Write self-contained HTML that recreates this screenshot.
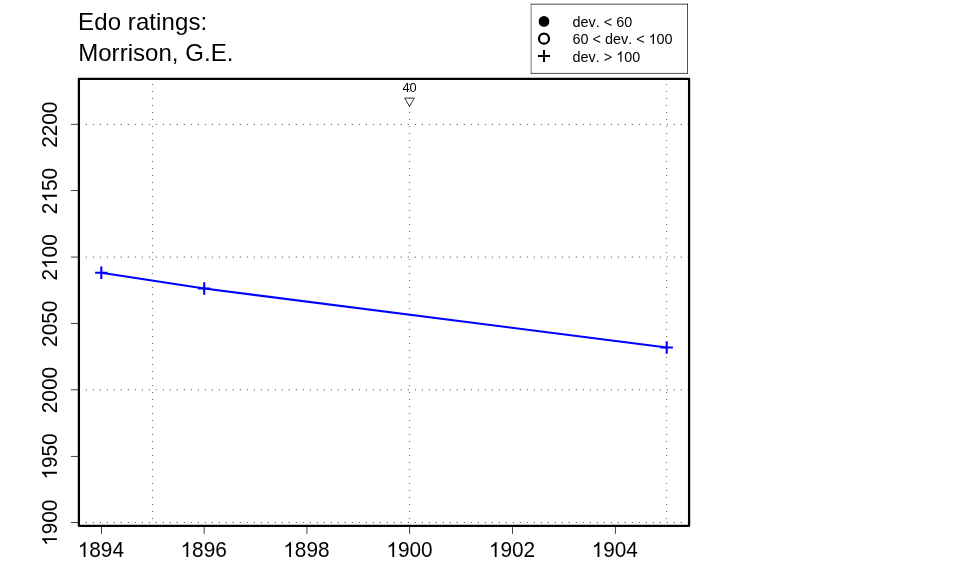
<!DOCTYPE html>
<html><head><meta charset="utf-8"><title>Edo ratings: Morrison, G.E.</title>
<style>
html,body{margin:0;padding:0;background:#fff;width:960px;height:576px;overflow:hidden;}
svg{display:block;position:absolute;left:0;top:0;will-change:transform;}
text{font-family:"Liberation Sans",sans-serif;fill:#000;font-kerning:none;}
</style></head><body>
<svg width="960" height="576" viewBox="0 0 960 576">
<rect width="960" height="576" fill="#fff"/>
<text x="78.1" y="30" font-size="24" letter-spacing="0.09">Edo ratings:</text>
<text x="78.2" y="61.1" font-size="24" letter-spacing="0.04">Morrison, G.E.</text>
<g stroke="#5e5e5e" stroke-width="1" fill="none">
<line x1="78.75" y1="522.50" x2="688" y2="522.50" stroke-dasharray="1.25 5.75"/>
<line x1="78.75" y1="389.80" x2="688" y2="389.80" stroke-dasharray="1.25 5.75"/>
<line x1="78.75" y1="257.10" x2="688" y2="257.10" stroke-dasharray="1.25 5.75"/>
<line x1="78.75" y1="124.40" x2="688" y2="124.40" stroke-dasharray="1.25 5.75"/>
<line x1="152.60" y1="526" x2="152.60" y2="80" stroke-dasharray="1 6"/>
<line x1="409.60" y1="526" x2="409.60" y2="80" stroke-dasharray="1 6"/>
<line x1="666.60" y1="526" x2="666.60" y2="80" stroke-dasharray="1 6"/>
</g>
<polyline points="101.3,272.8 204.2,288.5 666.7,347.5" fill="none" stroke="#0000ff" stroke-width="2.1" stroke-linejoin="round" stroke-linecap="round"/>
<path d="M95.1 272.8H107.5M101.3 266.6V279.0" stroke="#0000ff" stroke-width="2.1" fill="none"/>
<path d="M198.0 288.5H210.4M204.2 282.3V294.7" stroke="#0000ff" stroke-width="2.1" fill="none"/>
<path d="M660.5 347.5H672.9M666.7 341.3V353.7" stroke="#0000ff" stroke-width="2.1" fill="none"/>
<text transform="translate(409.5 91.9) scale(1 1.05)" font-size="12.8" text-anchor="middle">40</text>
<path d="M404.7 98.1H414.3L409.5 106.5Z" fill="none" stroke="#000" stroke-width="0.8"/>
<rect x="78.90" y="78.80" width="610.20" height="447.05" fill="none" stroke="#000" stroke-width="2.25" stroke-linejoin="round"/>
<g stroke="#000" stroke-width="0.75" fill="none">
<line x1="101.50" y1="525.85" x2="101.50" y2="533.85"/>
<line x1="204.20" y1="525.85" x2="204.20" y2="533.85"/>
<line x1="306.95" y1="525.85" x2="306.95" y2="533.85"/>
<line x1="409.58" y1="525.85" x2="409.58" y2="533.85"/>
<line x1="512.50" y1="525.85" x2="512.50" y2="533.85"/>
<line x1="615.42" y1="525.85" x2="615.42" y2="533.85"/>
<line x1="78.90" y1="522.50" x2="70.90" y2="522.50"/>
<line x1="78.90" y1="456.45" x2="70.90" y2="456.45"/>
<line x1="78.90" y1="389.75" x2="70.90" y2="389.75"/>
<line x1="78.90" y1="323.45" x2="70.90" y2="323.45"/>
<line x1="78.90" y1="257.10" x2="70.90" y2="257.10"/>
<line x1="78.90" y1="190.55" x2="70.90" y2="190.55"/>
<line x1="78.90" y1="124.35" x2="70.90" y2="124.35"/>
</g>
<g transform="translate(100.85 557.00)"><path transform="translate(-23.14 0) scale(0.01016 -0.01016)" d="M763 0H583V1147Q518 1085 412.5 1023T223 930V1104Q374 1175 487 1276T647 1472H763Z" fill="#000"/><text transform="scale(1 1.05)" x="-11.57 0.00 11.57" font-size="20.8">894</text></g>
<g transform="translate(203.63 557.00)"><path transform="translate(-23.14 0) scale(0.01016 -0.01016)" d="M763 0H583V1147Q518 1085 412.5 1023T223 930V1104Q374 1175 487 1276T647 1472H763Z" fill="#000"/><text transform="scale(1 1.05)" x="-11.57 0.00 11.57" font-size="20.8">896</text></g>
<g transform="translate(306.41 557.00)"><path transform="translate(-23.14 0) scale(0.01016 -0.01016)" d="M763 0H583V1147Q518 1085 412.5 1023T223 930V1104Q374 1175 487 1276T647 1472H763Z" fill="#000"/><text transform="scale(1 1.05)" x="-11.57 0.00 11.57" font-size="20.8">898</text></g>
<g transform="translate(409.54 557.00)"><path transform="translate(-23.14 0) scale(0.01016 -0.01016)" d="M763 0H583V1147Q518 1085 412.5 1023T223 930V1104Q374 1175 487 1276T647 1472H763Z" fill="#000"/><text transform="scale(1 1.05)" x="-11.57 0.00 11.57" font-size="20.8">900</text></g>
<g transform="translate(511.97 557.00)"><path transform="translate(-23.14 0) scale(0.01016 -0.01016)" d="M763 0H583V1147Q518 1085 412.5 1023T223 930V1104Q374 1175 487 1276T647 1472H763Z" fill="#000"/><text transform="scale(1 1.05)" x="-11.57 0.00 11.57" font-size="20.8">902</text></g>
<g transform="translate(614.75 557.00)"><path transform="translate(-23.14 0) scale(0.01016 -0.01016)" d="M763 0H583V1147Q518 1085 412.5 1023T223 930V1104Q374 1175 487 1276T647 1472H763Z" fill="#000"/><text transform="scale(1 1.05)" x="-11.57 0.00 11.57" font-size="20.8">904</text></g>
<g transform="translate(56.90 522.80) rotate(-90)"><path transform="translate(-23.14 0) scale(0.01016 -0.01016)" d="M763 0H583V1147Q518 1085 412.5 1023T223 930V1104Q374 1175 487 1276T647 1472H763Z" fill="#000"/><text transform="scale(1 1.05)" x="-11.57 0.00 11.57" font-size="20.8">900</text></g>
<g transform="translate(56.90 456.45) rotate(-90)"><path transform="translate(-23.14 0) scale(0.01016 -0.01016)" d="M763 0H583V1147Q518 1085 412.5 1023T223 930V1104Q374 1175 487 1276T647 1472H763Z" fill="#000"/><text transform="scale(1 1.05)" x="-11.57 0.00 11.57" font-size="20.8">950</text></g>
<g transform="translate(56.90 390.10) rotate(-90)"><text transform="scale(1 1.05)" x="-23.14 -11.57 0.00 11.57" font-size="20.8">2000</text></g>
<g transform="translate(56.90 323.75) rotate(-90)"><text transform="scale(1 1.05)" x="-23.14 -11.57 0.00 11.57" font-size="20.8">2050</text></g>
<g transform="translate(56.90 257.40) rotate(-90)"><path transform="translate(-11.57 0) scale(0.01016 -0.01016)" d="M763 0H583V1147Q518 1085 412.5 1023T223 930V1104Q374 1175 487 1276T647 1472H763Z" fill="#000"/><text transform="scale(1 1.05)" x="-23.14 0.00 11.57" font-size="20.8">200</text></g>
<g transform="translate(56.90 191.05) rotate(-90)"><path transform="translate(-11.57 0) scale(0.01016 -0.01016)" d="M763 0H583V1147Q518 1085 412.5 1023T223 930V1104Q374 1175 487 1276T647 1472H763Z" fill="#000"/><text transform="scale(1 1.05)" x="-23.14 0.00 11.57" font-size="20.8">250</text></g>
<g transform="translate(56.90 124.70) rotate(-90)"><text transform="scale(1 1.05)" x="-23.14 -11.57 0.00 11.57" font-size="20.8">2200</text></g>
<g stroke="#000" fill="none">
<line x1="531.14" y1="3.8" x2="531.14" y2="73.74" stroke-width="0.53"/>
<line x1="530.87" y1="4.17" x2="687.84" y2="4.17" stroke-width="0.73"/>
<line x1="687.5" y1="3.8" x2="687.5" y2="73.74" stroke-width="0.68"/>
<line x1="530.87" y1="73.4" x2="687.84" y2="73.4" stroke-width="0.68"/>
</g>
<circle cx="544" cy="21.4" r="5.35" fill="#000"/>
<circle cx="544" cy="38.65" r="5" fill="none" stroke="#000" stroke-width="2.2"/>
<path d="M538 56H550M544 50V62" stroke="#000" stroke-width="2" fill="none"/>
<g transform="translate(572.60 26.70)"><text x="0.00" font-size="14.4">dev. &lt; 60</text></g>
<g transform="translate(572.60 44.10)"><text x="0.00" font-size="14.4">60 &lt; dev. &lt;</text><path transform="translate(76.00 0) scale(0.00703 -0.00703)" d="M763 0H583V1147Q518 1085 412.5 1023T223 930V1104Q374 1175 487 1276T647 1472H763Z" fill="#000"/><text x="84.00" font-size="14.4">00</text></g>
<g transform="translate(572.60 61.70)"><text x="0.00" font-size="14.4">dev. &gt;</text><path transform="translate(43.59 0) scale(0.00703 -0.00703)" d="M763 0H583V1147Q518 1085 412.5 1023T223 930V1104Q374 1175 487 1276T647 1472H763Z" fill="#000"/><text x="51.59" font-size="14.4">00</text></g>
</svg>
</body></html>
